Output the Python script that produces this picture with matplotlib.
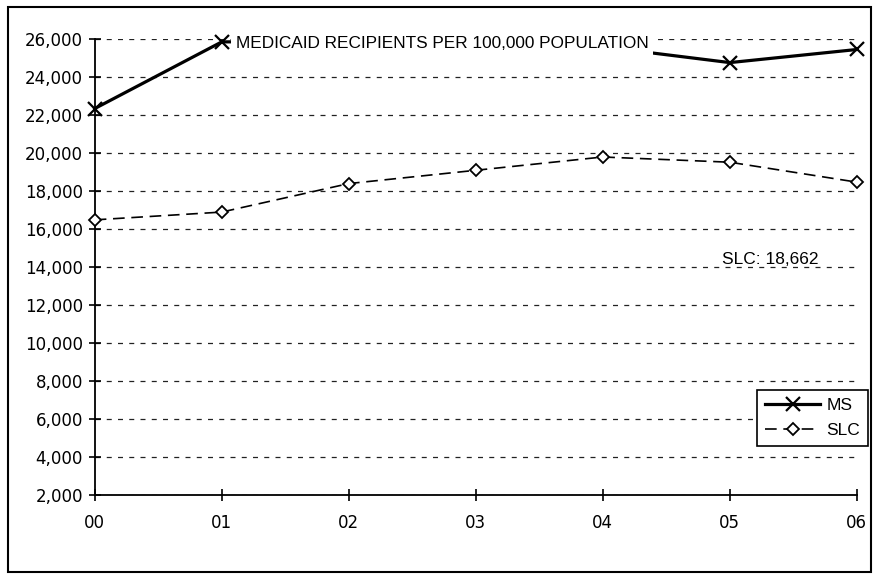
import matplotlib
matplotlib.use("Agg")
import matplotlib.pyplot as plt
from matplotlib.patches import Rectangle
from matplotlib.ticker import FuncFormatter

years = ["00", "01", "02", "03", "04", "05", "06"]
ms = [22350, 25860, 25900, 25750, 25600, 24770, 25460]
slc = [16490, 16900, 18400, 19100, 19800, 19525, 18475]
y_ticks = list(range(2000, 26001, 2000))
title_txt = "MEDICAID RECIPIENTS PER 100,000 POPULATION"
slc_note = "SLC: 18,662"

x = list(range(len(years)))

fig = plt.figure(figsize=(8.77, 5.77), dpi=100)
ax = fig.add_axes([0.108, 0.142, 0.869, 0.790])

# dashed horizontal grid
ax.set_yticks(y_ticks)
ax.yaxis.grid(True, color="#222222", linestyle=(0, (4, 5)), linewidth=0.9)
ax.set_axisbelow(True)

ax.plot(x, ms, color="black", linewidth=2.3, marker="x", markersize=10,
        markeredgewidth=1.6, label="MS", clip_on=False, zorder=3)
ax.plot(x, slc, color="black", linewidth=1.2, linestyle=(0, (7, 4)),
        marker="D", markersize=6.5, markerfacecolor="white",
        markeredgecolor="black", markeredgewidth=1.3, label="SLC",
        clip_on=False, zorder=3)

ax.set_xlim(0, 6)
ax.set_ylim(2000, 26000)
ax.set_xticks(x)
ax.set_xticklabels(years)
ax.yaxis.set_major_formatter(FuncFormatter(lambda v, p: f"{int(v):,}"))

for s in ["top", "right"]:
    ax.spines[s].set_visible(False)
for s in ["left", "bottom"]:
    ax.spines[s].set_linewidth(1.3)
ax.tick_params(axis="both", direction="inout", length=9, width=1.2,
               labelsize=12, colors="black")
ax.tick_params(axis="x", pad=9)
ax.tick_params(axis="y", pad=4)

# title sits on the chart with a white box hiding the MS line
ax.text(1.11, 25750, title_txt, fontsize=12.4, family="Liberation Sans",
        ha="left", va="center", zorder=5,
        bbox=dict(facecolor="white", edgecolor="none", pad=3.2))

ax.text(4.94, 14400, slc_note, fontsize=12.5, family="Liberation Sans",
        ha="left", va="center")

leg = ax.legend(loc="lower left", bbox_to_anchor=(0.869, 0.108),
                borderaxespad=0, fontsize=12.5, handlelength=3.2,
                fancybox=False, framealpha=1, edgecolor="black",
                borderpad=0.45, labelspacing=0.55, handletextpad=0.35)
leg.get_frame().set_linewidth(1.2)
for t in leg.get_texts():
    t.set_family("Liberation Sans")

# outer border of the chart area
fig.patches.append(Rectangle((8 / 877, 5 / 577), 863 / 877, 565 / 577,
                             transform=fig.transFigure, fill=False,
                             edgecolor="black", linewidth=1.5))

fig.savefig("out.png", dpi=100)
